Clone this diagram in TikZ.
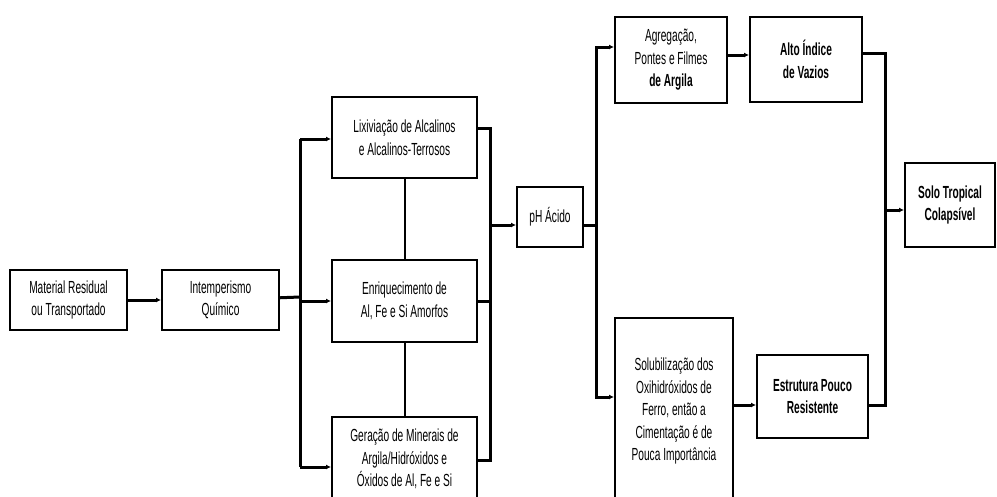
\documentclass[tikz,border=0pt]{standalone}
\usepackage{fontspec}
\setmainfont{Liberation Sans}[FakeStretch=0.58]
\usetikzlibrary{arrows.meta}

\begin{document}
\begin{tikzpicture}[x=1pt,y=-1pt,>={Latex[length=5pt,width=5pt]},
  box/.style={draw,line width=2pt,align=center,inner sep=0pt,
    font=\fontsize{17.5}{22.5}\selectfont},
  flow/.style={line width=3pt}]

\useasboundingbox (0,0) rectangle (997,496);
\clip (0,0) rectangle (997,496);

\node[box,minimum width=117,minimum height=60] (mat)   at ( 68.5,300) {Material Residual\\ou Transportado};
\node[box,minimum width=117,minimum height=60] (intem) at (220.5,300) {Intemperismo\\Químico};

\node[box,minimum width=145,minimum height=81] (lix) at (404.5,137.5) {Lixiviação de Alcalinos\\e Alcalinos-Terrosos};
\node[box,minimum width=145,minimum height=82] (enr) at (404.5,301)   {Enriquecimento de\\Al, Fe e Si Amorfos};
\node[box,minimum width=145,minimum height=85] (ger) at (404.5,459)   {Geração de Minerais de\\Argila/Hidróxidos e\\Óxidos de Al, Fe e Si};

\node[box,minimum width=66,minimum height=60] (ph) at (550,217) {pH Ácido};

\node[box,minimum width=112,minimum height=86]  (agr)  at (671,60)    {Agregação,\\Pontes e Filmes\\\textbf{de Argila}};
\node[box,minimum width=112,minimum height=85]  (alto) at (806,59.5)  {\textbf{Alto Índice}\\\textbf{de Vazios}};
\node[box,minimum width=118,minimum height=186] (solu) at (674,411)   {Solubilização dos\\Oxihidróxidos de\\Ferro, então a\\Cimentação é de\\Pouca Importância};
\node[box,minimum width=111,minimum height=83]  (est)  at (812.5,396.5) {\textbf{Estrutura Pouco}\\\textbf{Resistente}};
\node[box,minimum width=90,minimum height=84]   (solo) at (950,205)   {\textbf{Solo Tropical}\\\textbf{Colapsível}};

% bus points
\coordinate (lbus) at (300,297);
\coordinate (rtop) at (490,128);
\coordinate (rbot) at (490,460);
\coordinate (pbus) at (596,225);
\coordinate (fbus) at (885,210);

\draw[flow,->] (mat) -- (intem);

\draw[flow] (intem) -- (lbus);
\draw[flow] (lbus |- 0,139) -- (lbus |- 0,467);
\draw[flow,->] (lbus |- 0,139) -- (lix.west |- 0,139);
\draw[flow,->] (lbus |- enr.west) -- (enr.west);
\draw[flow,->] (lbus |- 0,467) -- (ger.west |- 0,467);

\draw[line width=2pt] (lix.south) -- (enr.north);
\draw[line width=2pt] (enr.south) -- (ger.north);

\draw[flow] (lix.east |- rtop) -- (rtop) -- (rbot) -- (ger.east |- rbot);
\draw[flow] (enr.east) -- (enr.east -| rtop);
\draw[flow,->] (rtop |- pbus) -- (ph.west |- pbus);

\draw[flow] (ph.east |- pbus) -- (pbus);
\draw[flow,->] (pbus) |- (agr.west |- 0,47);
\draw[flow,->] (pbus) |- (solu.west |- 0,397);

\draw[flow,->] (agr.east |- 0,55) -- (alto.west |- 0,55);
\draw[flow,->] (solu.east |- 0,405) -- (est.west |- 0,405);

\draw[flow] (alto.east |- 0,53) -| (fbus) |- (est.east |- 0,405);
\draw[flow,->] (fbus) -- (solo.west |- fbus);

\end{tikzpicture}
\end{document}
